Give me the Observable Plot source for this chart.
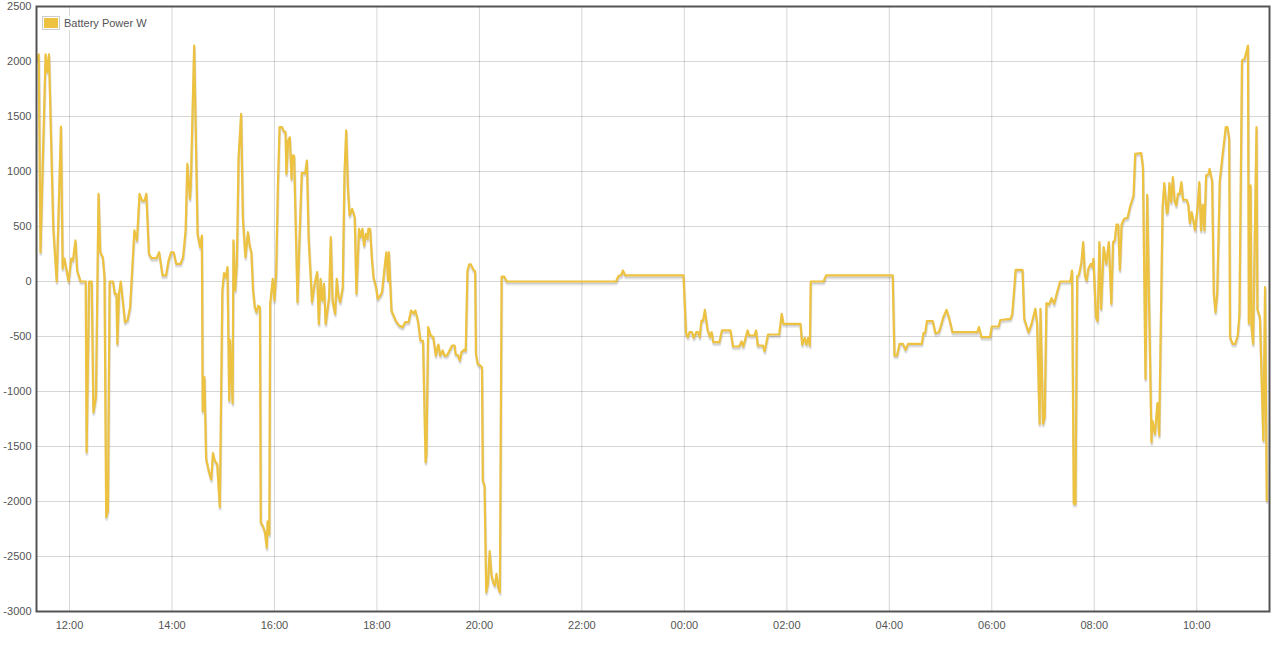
<!DOCTYPE html>
<html><head><meta charset="utf-8">
<script src="https://cdn.jsdelivr.net/npm/d3@7"></script>
<script src="https://cdn.jsdelivr.net/npm/@observablehq/plot@0.6"></script>
<style>
body{margin:0;background:#fff;font-family:"Liberation Sans",Arial,sans-serif;}
#wrap{position:relative;width:1277px;height:647px;}
#legend{position:absolute;left:42px;top:16px;display:flex;align-items:center;font-size:11px;color:#545454;background:rgba(255,255,255,0.85);}
.sw{border:1px solid #ccc;padding:1px;}
.sw div{width:14px;height:10px;background:#edc240;}
</style></head>
<body>
<div id="wrap"><div id="chart"></div>
<div id="legend"><div class="sw"><div></div></div><span style="margin-left:4px">Battery Power W</span></div>
</div>
<script>
const seriesName = "Battery Power W";
const times = ["11:22","11:24","11:26","11:32","11:34","11:36","11:41","11:45","11:50","11:52","11:54","11:59","12:02","12:04","12:07","12:09","12:13","12:19","12:20","12:23","12:26","12:28","12:31","12:34","12:36","12:39","12:41","12:43","12:45","12:47","12:51","12:53","12:55","12:56","12:58","13:00","13:05","13:08","13:11","13:16","13:19","13:22","13:25","13:28","13:30","13:33","13:36","13:42","13:45","13:49","13:53","13:56","13:59","14:02","14:05","14:10","14:13","14:16","14:18","14:21","14:22","14:26","14:30","14:33","14:35","14:36","14:38","14:40","14:43","14:46","14:48","14:50","14:53","14:56","14:59","15:01","15:03","15:05","15:07","15:08","15:11","15:12","15:14","15:16","15:18","15:21","15:23","15:26","15:29","15:31","15:33","15:35","15:37","15:39","15:41","15:43","15:44","15:47","15:49","15:51","15:52","15:54","15:55","15:58","16:00","16:02","16:04","16:06","16:09","16:11","16:13","16:14","16:16","16:18","16:20","16:21","16:23","16:27","16:29","16:32","16:36","16:38","16:40","16:44","16:47","16:50","16:52","16:54","16:56","16:58","17:00","17:04","17:06","17:08","17:11","17:13","17:15","17:17","17:20","17:22","17:24","17:26","17:28","17:31","17:34","17:36","17:39","17:41","17:43","17:45","17:47","17:49","17:50","17:52","17:54","17:56","17:59","18:01","18:04","18:06","18:09","18:11","18:13","18:14","18:17","18:22","18:26","18:30","18:33","18:37","18:40","18:43","18:45","18:48","18:51","18:54","18:57","18:58","19:00","19:03","19:06","19:09","19:11","19:12","19:14","19:17","19:19","19:22","19:25","19:28","19:31","19:32","19:35","19:37","19:39","19:42","19:44","19:46","19:48","19:50","19:53","19:55","19:56","19:58","20:01","20:03","20:04","20:06","20:08","20:10","20:12","20:14","20:16","20:18","20:20","20:22","20:24","20:26","20:29","20:32","22:40","22:43","22:46","22:48","22:51","23:59","00:02","00:04","00:06","00:09","00:11","00:14","00:16","00:18","00:20","00:22","00:24","00:27","00:30","00:32","00:34","00:41","00:44","00:54","00:57","01:04","01:07","01:09","01:14","01:16","01:22","01:24","01:26","01:32","01:34","01:38","01:51","01:54","01:56","02:16","02:18","02:21","02:23","02:25","02:27","02:28","02:43","02:46","04:04","04:06","04:09","04:12","04:16","04:19","04:22","04:38","04:40","04:42","04:44","04:51","04:54","04:58","05:00","05:03","05:07","05:10","05:14","05:43","05:45","05:48","05:58","06:00","06:08","06:10","06:22","06:24","06:28","06:36","06:38","06:43","06:46","06:49","06:51","06:53","06:56","06:57","07:00","07:02","07:04","07:07","07:10","07:13","07:17","07:20","07:32","07:34","07:36","07:38","07:40","07:42","07:45","07:47","07:49","07:51","07:53","07:56","07:58","07:59","08:02","08:04","08:06","08:08","08:11","08:14","08:17","08:20","08:22","08:24","08:26","08:28","08:30","08:32","08:35","08:39","08:42","08:46","08:48","08:55","08:57","09:00","09:02","09:07","09:08","09:11","09:14","09:16","09:20","09:22","09:25","09:26","09:28","09:30","09:32","09:34","09:36","09:38","09:40","09:42","09:44","09:48","09:50","09:52","09:54","09:56","09:58","10:01","10:03","10:05","10:07","10:09","10:11","10:14","10:15","10:18","10:20","10:22","10:24","10:27","10:30","10:34","10:36","10:38","10:39","10:42","10:45","10:48","10:50","10:53","10:56","11:00","11:01","11:03","11:04","11:06","11:10","11:11","11:14","11:18","11:20","11:22"];
const power = [2015,2064,266,2064,1903,2064,494,0,1409,118,209,0,209,190,373,100,0,0,-1551,0,0,-1188,-1051,797,266,221,39,-2142,-2082,0,0,-112,-112,-567,-112,0,-370,-350,-233,464,373,797,736,736,797,252,212,212,266,55,55,191,266,266,161,161,221,464,1070,752,857,2145,433,312,418,-1180,-870,-1610,-1718,-1800,-1560,-1627,-1660,-2050,-82,76,39,130,-1082,-530,-1106,373,-82,161,1130,1524,585,221,448,327,266,-82,-233,-279,-221,-233,-2188,-2233,-2280,-2420,-2180,-2300,-203,24,-173,70,857,1403,1403,1367,1360,979,1282,1312,933,1145,1145,-188,312,985,985,1100,403,-188,-21,85,-385,24,-173,-21,-385,-142,403,-173,-294,24,-142,-188,-52,979,1373,857,600,661,585,-112,479,403,479,327,433,388,479,479,221,39,-52,-158,-127,-97,130,266,9,266,-264,-355,-400,-415,-370,-370,-264,-290,-264,-355,-536,-540,-1642,-1567,-415,-491,-506,-673,-597,-573,-673,-627,-673,-673,-627,-582,-582,-658,-673,-718,-642,-621,-630,100,155,155,106,94,-658,-748,-764,-780,-1809,-1855,-2824,-2748,-2452,-2658,-2733,-2764,-2658,-2779,-2824,45,45,0,0,52,55,100,55,55,-476,-506,-461,-461,-512,-461,-461,-506,-355,-355,-258,-430,-506,-461,-552,-552,-445,-445,-591,-591,-545,-591,-445,-491,-491,-445,-582,-582,-633,-482,-482,-294,-385,-385,-573,-512,-573,-512,-582,0,0,55,55,-673,-673,-567,-567,-621,-567,-567,-470,-470,-361,-361,-470,-461,-415,-330,-258,-330,-461,-461,-415,-506,-506,-409,-409,-350,-339,-294,106,106,-339,-461,-400,-309,-248,-380,-1294,-248,-1294,-1233,-197,-209,-152,-203,-82,0,0,100,-2021,-2021,45,61,176,358,55,9,115,161,130,206,-324,-360,358,-248,312,161,358,-203,358,373,518,518,106,518,570,579,682,782,1161,1167,1039,-885,788,-1461,-1264,-1385,-1106,-1400,676,894,621,630,894,721,948,736,691,797,797,903,743,743,706,530,630,555,470,676,903,464,700,464,964,979,1024,918,-112,-279,-100,918,1130,1403,1403,1297,-506,-567,-567,-491,-300,2009,2024,2145,-380,873,-400,-567,1403,-250,-330,-1445,-52,-1991];
const yTicks = [-3000,-2500,-2000,-1500,-1000,-500,0,500,1000,1500,2000,2500];
const xTickLabels = ["12:00","14:00","16:00","18:00","20:00","22:00","00:00","02:00","04:00","06:00","08:00","10:00"];
const startTime = "11:21:22", endTime = "11:25:12";

const base = Date.UTC(2024, 0, 1);
function toDates(list) {
  let day = 0, prev = -1;
  return list.map(s => {
    const [h, m, sec] = s.split(":").map(Number);
    const mins = h * 60 + m + (sec || 0) / 60;
    if (mins < prev) day++;
    prev = mins;
    return new Date(base + day * 864e5 + mins * 6e4);
  });
}
const dates = toDates(times);
const data = dates.map((d, i) => ({t: d, v: power[i]}));
const xTicks = toDates(xTickLabels);
const [d0] = toDates([startTime]);
const d1 = new Date(toDates([endTime])[0].getTime() + 864e5);

const fmt = d3.utcFormat("%H:%M");
const chart = Plot.plot({
  width: 1277, height: 647,
  marginLeft: 36, marginRight: 8, marginTop: 6, marginBottom: 36,
  style: {fontFamily: '"Liberation Sans", Arial, sans-serif', fontSize: "11px", color: "#545454", background: "#fff"},
  x: {type: "utc", domain: [d0, d1], label: null},
  y: {domain: [-3000, 2500], label: null},
  marks: [
    Plot.gridY(yTicks, {stroke: "#000", strokeOpacity: 0.16}),
    Plot.gridX(xTicks, {stroke: "#000", strokeOpacity: 0.16}),
    Plot.line(data, {x: "t", y: "v", stroke: "rgba(0,0,0,0.1)", strokeWidth: 3, dy: 2.5, dx: 0.4, clip: true}),
    Plot.line(data, {x: "t", y: "v", stroke: "rgba(0,0,0,0.1)", strokeWidth: 1.5, dy: 1.7, dx: 0.3, clip: true}),
    Plot.line(data, {x: "t", y: "v", stroke: "#edc240", strokeWidth: 2.2, clip: true}),
    Plot.frame({stroke: "#545454", strokeWidth: 2}),
    Plot.axisY(yTicks, {tickSize: 0, tickPadding: 5, tickFormat: d => String(d), fill: "#545454", label: null}),
    Plot.axisX(xTicks, {tickSize: 0, tickPadding: 10, tickFormat: fmt, fill: "#545454", label: null})
  ]
});
document.getElementById("chart").appendChild(chart);
</script>
</body></html>
